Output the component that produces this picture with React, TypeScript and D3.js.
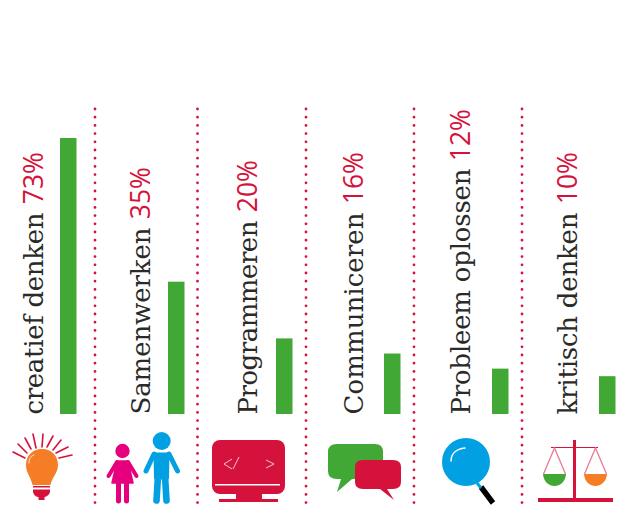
import React from "react";
import * as d3 from "d3";

const categories = ["creatief denken", "Samenwerken", "Programmeren", "Communiceren", "Probleem oplossen", "kritisch denken"];
const percentages = [73, 35, 20, 16, 12, 10];
const barLefts = [60, 168, 276, 384, 492, 599];
const labelBaselines = [43, 150, 257, 363, 470, 577];
const labelLengths = [202, 187, 194, 202, 246, 202];
const percentTops = [152, 167, 160, 152, 109, 152];
const separators = [95, 197.5, 306, 414, 522];
const rays = [[13,452,25,458],[18,444,27,453],[25,438,31,449],[33,434,36,448],[43,434,42,447],[53,436,47,447],[61,440,53,450],[68,447,56,453],[72,455,59,458]];

const GREEN = "#41a836";
const RED = "#d5123c";
const ORANGE = "#f47d25";
const BLUE = "#00a0e3";
const PINK = "#e6007e";

const y = d3.scaleLinear().domain([0, 73]).range([414, 138]);

const Bulb = () => (
  <g>
    <g stroke={RED} strokeWidth={1.6} strokeLinecap="round">
      {rays.map((l, i) => (
        <line key={i} x1={l[0]} y1={l[1]} x2={l[2]} y2={l[3]} />
      ))}
    </g>
    <path d="M42 449 C52 449 58 456 58 465 C58 473 52 477 50.5 485 L32.5 485 C31 477 26 473 26 465 C26 456 32 449 42 449 Z" fill={ORANGE} />
    <path d="M29 463 C29 458 31 456 34 455" fill="none" stroke="#fff" strokeWidth={0.8} strokeLinecap="round" />
    <rect x={33} y={486} width={17} height={1.5} fill={RED} />
    <path d="M33 489.5 L50 489.5 L50 492 C49 496 45 497 44.5 497 L44.5 500 L38.5 500 L38.5 497 C37 497 34 496 33 492 Z" fill={RED} />
  </g>
);

const People = () => (
  <g>
    <g fill={PINK} stroke={PINK}>
      <circle cx={122.5} cy={451} r={7.2} stroke="none" />
      <path d="M117 461 L128 461 L133 483 L112 483 Z" strokeWidth={1.5} strokeLinejoin="round" />
      <path d="M117 462 L108.5 476 M128 462 L136.5 476" strokeWidth={4} strokeLinecap="round" fill="none" />
      <path d="M118.5 484 L118.5 501 M126.5 484 L126.5 501" strokeWidth={5} strokeLinecap="round" fill="none" />
    </g>
    <g fill={BLUE} stroke={BLUE}>
      <circle cx={161.7} cy={441} r={9} stroke="none" />
      <path d="M155 454 L168 454 L167.5 478 L155.5 478 Z" strokeWidth={3} strokeLinejoin="round" />
      <path d="M154 454 L146 471 M169 454 L177.5 471" strokeWidth={5} strokeLinecap="round" fill="none" />
      <path d="M158 476 L156.5 500.5 M165 476 L166.5 500.5" strokeWidth={6.6} strokeLinecap="round" fill="none" />
    </g>
  </g>
);

const Monitor = () => (
  <g>
    <rect x={212} y={440} width={73} height={54} rx={8} fill={RED} />
    <rect x={236} y={492} width={26} height={8} fill={RED} />
    <rect x={219} y={499} width={59} height={3} fill={RED} />
    <rect x={215} y={484} width={65} height={1.5} fill="#fff" />
    <g fill="none" stroke="#f6c4cf" strokeWidth={1}>
      <path d="M232 459 L224 464 L232 469" />
      <path d="M239 457 L233 469" />
      <path d="M266 460 L274 464 L266 468" />
    </g>
  </g>
);

const Speech = () => (
  <g>
    <path d="M337 444 L375 444 Q383 444 383 452 L383 471 Q383 479 375 479 L352 479 L337 492 L341 479 L337 479 Q328 479 328 471 L328 452 Q328 444 337 444 Z" fill={GREEN} />
    <path d="M363 460 L393 460 Q401 460 401 467 L401 482 Q401 489 393 489 L387 489 L394 500 L380 489 L363 489 Q355 489 355 482 L355 467 Q355 460 363 460 Z" fill={RED} />
  </g>
);

const Magnifier = () => (
  <g>
    <line x1={481} y1={487} x2={493} y2={503} stroke="#000" strokeWidth={5.5} />
    <line x1={477} y1={483} x2={481} y2={488} stroke={BLUE} strokeWidth={3} />
    <circle cx={466} cy={462} r={24} fill={BLUE} />
    <path d="M451 461 C451 454 456 449 465 448" fill="none" stroke="#fff" strokeWidth={1.5} strokeLinecap="round" />
  </g>
);

const Scale = () => (
  <g>
    <rect x={538} y={498} width={75} height={4} fill={RED} />
    <rect x={573} y={440} width={3} height={58} fill={RED} />
    <line x1={551} y1={447.5} x2={598} y2={447.5} stroke={RED} strokeWidth={1} />
    <g fill="none" stroke="#ea7c93" strokeWidth={1.3}>
      <path d="M543.5 474 L554.5 448 L565.5 474" />
      <path d="M584.5 474 L595.5 448 L606.5 474" />
    </g>
    <path d="M543 474 L566 474 C565.5 482 560 486 554.5 486 C549 486 543.5 482 543 474 Z" fill={GREEN} />
    <path d="M584 474 L607 474 C606.5 482 600.5 486 595.5 486 C590 486 584.5 482 584 474 Z" fill={ORANGE} />
  </g>
);

export default function App() {
  return (
    <svg
      width={627}
      height={506}
      style={{ position: "absolute", left: 0, top: 0, background: "#fff", display: "block" }}
    >
      {separators.map((s) => (
        <line
          key={s}
          x1={s}
          x2={s}
          y1={109}
          y2={506}
          stroke={RED}
          strokeWidth={2.8}
          strokeLinecap="round"
          strokeDasharray="0 8.2"
        />
      ))}
      {categories.map((c, i) => (
        <g key={c}>
          <rect
            x={barLefts[i]}
            y={y(percentages[i])}
            width={16.5}
            height={y(0) - y(percentages[i])}
            fill={GREEN}
          />
          <text
            transform={`translate(${labelBaselines[i]},414.5) rotate(-90)`}
            fontFamily="'DejaVu Serif'"
            fontSize={26}
            fontWeight={400}
            fill="#2a2a28"
            textLength={labelLengths[i]}
            lengthAdjust="spacing"
          >
            {c}
          </text>
          <text
            transform={`translate(${labelBaselines[i]},${percentTops[i]}) rotate(-90)`}
            textAnchor="end"
            fontFamily="'Open Sans'"
            fontSize={26.5}
            fontWeight={400}
            fill={RED}
          >
            {percentages[i]}%
          </text>
        </g>
      ))}
      <Bulb />
      <People />
      <Monitor />
      <Speech />
      <Magnifier />
      <Scale />
    </svg>
  );
}
